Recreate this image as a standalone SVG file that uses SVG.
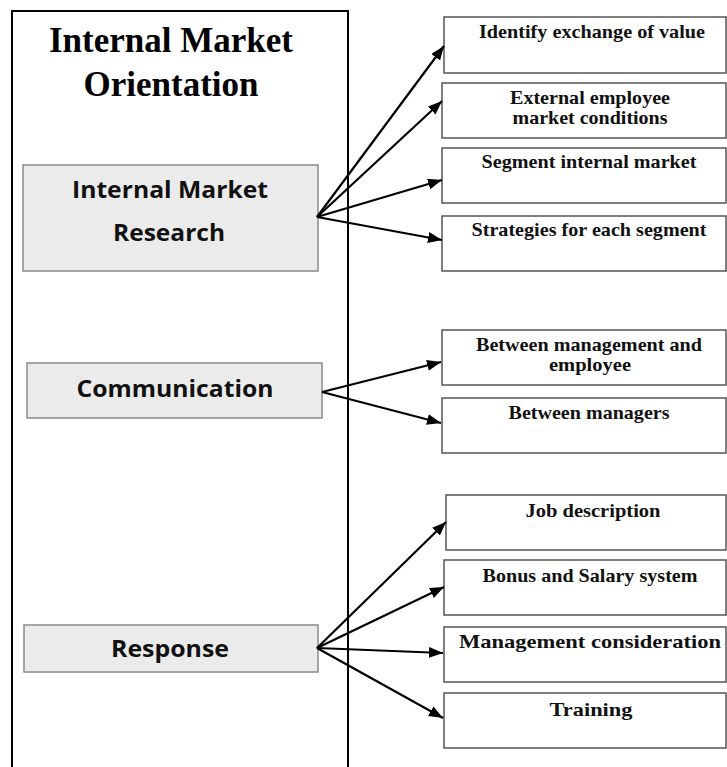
<svg xmlns="http://www.w3.org/2000/svg" width="727" height="767" viewBox="0 0 727 767">
<style>
.gbox{fill:#ebebeb;stroke:#8a8a8a;stroke-width:1.5}
.wbox{fill:#fff;stroke:#555;stroke-width:1.5}
.gt{font-family:"Open Sans","Noto Sans",sans-serif;font-weight:700;font-size:23px;fill:#111;text-anchor:middle}
.wt{font-family:"Liberation Serif","Times New Roman",serif;font-weight:bold;font-size:19px;fill:#111;text-anchor:middle}
.title{font-family:"Liberation Serif","Times New Roman",serif;font-weight:bold;font-size:35px;fill:#000;text-anchor:middle}
.conn line{stroke:#000;stroke-width:2.2;marker-end:url(#ah)}
</style>
<defs>
<marker id="ah" markerUnits="userSpaceOnUse" markerWidth="15" markerHeight="11" refX="14" refY="5.5" orient="auto">
<path d="M0,0 L14,5.5 L0,11 Z" fill="#000"/>
</marker>
</defs>
<rect width="727" height="767" fill="#fff"/>
<g id="outer">
<path d="M12,767 V11 H348 V767" fill="none" stroke="#000" stroke-width="2"/>
<text class="title" x="171" y="52">Internal Market</text>
<text class="title" x="171" y="96">Orientation</text>
</g>
<g id="imr">
<rect class="gbox" x="23" y="165" width="295" height="106"/>
<text class="gt" x="170" y="198" textLength="196" lengthAdjust="spacingAndGlyphs">Internal Market</text>
<text class="gt" x="169" y="241" textLength="112" lengthAdjust="spacingAndGlyphs">Research</text>
</g>
<g id="comm">
<rect class="gbox" x="27" y="363" width="295" height="55"/>
<text class="gt" x="175" y="397" textLength="197" lengthAdjust="spacingAndGlyphs">Communication</text>
</g>
<g id="resp">
<rect class="gbox" x="24" y="625" width="294" height="47"/>
<text class="gt" x="170" y="657" textLength="118" lengthAdjust="spacingAndGlyphs">Response</text>
</g>
<g id="b1"><rect class="wbox" x="444" y="17" width="282" height="56"/><text class="wt" x="592" y="38" textLength="226" lengthAdjust="spacingAndGlyphs">Identify exchange of value</text></g>
<g id="b2"><rect class="wbox" x="442" y="83" width="284" height="55"/><text class="wt" x="590" y="104" textLength="160" lengthAdjust="spacingAndGlyphs">External employee</text><text class="wt" x="590" y="124" textLength="155" lengthAdjust="spacingAndGlyphs">market conditions</text></g>
<g id="b3"><rect class="wbox" x="442" y="148" width="284" height="55"/><text class="wt" x="589" y="168" textLength="215" lengthAdjust="spacingAndGlyphs">Segment internal market</text></g>
<g id="b4"><rect class="wbox" x="442" y="216" width="284" height="55"/><text class="wt" x="589" y="236" textLength="235" lengthAdjust="spacingAndGlyphs">Strategies for each segment</text></g>
<g id="b5"><rect class="wbox" x="442" y="330" width="284" height="55"/><text class="wt" x="589" y="351" textLength="226" lengthAdjust="spacingAndGlyphs">Between management and</text><text class="wt" x="590" y="371" textLength="82" lengthAdjust="spacingAndGlyphs">employee</text></g>
<g id="b6"><rect class="wbox" x="442" y="398" width="284" height="55"/><text class="wt" x="589" y="419" textLength="161" lengthAdjust="spacingAndGlyphs">Between managers</text></g>
<g id="b7"><rect class="wbox" x="446" y="495" width="280" height="55"/><text class="wt" x="593" y="517" font-size="21" textLength="135" lengthAdjust="spacingAndGlyphs">Job description</text></g>
<g id="b8"><rect class="wbox" x="444" y="560" width="282" height="55"/><text class="wt" x="590" y="582" font-size="21" textLength="215" lengthAdjust="spacingAndGlyphs">Bonus and Salary system</text></g>
<g id="b9"><rect class="wbox" x="444" y="627" width="282" height="55"/><text class="wt" x="590" y="648" font-size="22" textLength="262" lengthAdjust="spacingAndGlyphs">Management consideration</text></g>
<g id="b10"><rect class="wbox" x="444" y="693" width="282" height="55"/><text class="wt" x="591" y="716" font-size="22" textLength="83" lengthAdjust="spacingAndGlyphs">Training</text></g>
<g id="connectors" class="conn">
<line x1="317" y1="217" x2="444" y2="46"/>
<line x1="317" y1="217" x2="442" y2="101"/>
<line x1="317" y1="217" x2="442" y2="180"/>
<line x1="317" y1="217" x2="442" y2="240"/>
<line x1="322" y1="392" x2="441" y2="362"/>
<line x1="322" y1="392" x2="441" y2="423"/>
<line x1="317" y1="648" x2="446" y2="522"/>
<line x1="317" y1="648" x2="444" y2="587"/>
<line x1="317" y1="648" x2="443" y2="653"/>
<line x1="317" y1="648" x2="443" y2="718"/>
</g>
</svg>
